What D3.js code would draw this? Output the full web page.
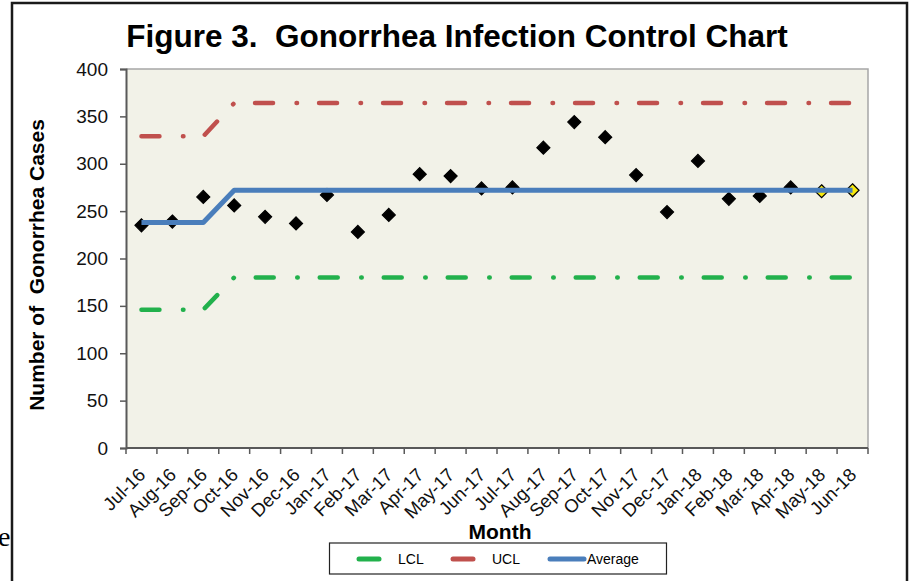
<!DOCTYPE html>
<html>
<head>
<meta charset="utf-8">
<script src="https://cdn.jsdelivr.net/npm/d3@7"></script>
<style>
  body { margin: 0; background: #fff; }
  text { font-family: Arial, "Liberation Sans", sans-serif; white-space: pre; }
</style>
</head>
<body>
<svg id="chart" width="910" height="581"></svg>
<script>
var months = ["Jul-16","Aug-16","Sep-16","Oct-16","Nov-16","Dec-16","Jan-17","Feb-17","Mar-17","Apr-17","May-17","Jun-17",
              "Jul-17","Aug-17","Sep-17","Oct-17","Nov-17","Dec-17","Jan-18","Feb-18","Mar-18","Apr-18","May-18","Jun-18"];
var cases = [235, 239, 265, 256, 244, 237, 267, 228, 246, 289, 287, 274,
             275, 317, 344, 328, 288, 249, 303, 263, 266, 275, 271, 272];
// last two months are flagged (yellow markers)
var flagged = ["May-18", "Jun-18"];
var average = [238, 238, 238, 272, 272, 272, 272, 272, 272, 272, 272, 272,
               272, 272, 272, 272, 272, 272, 272, 272, 272, 272, 272, 272];
var ucl = [329, 329, 329, 364, 364, 364, 364, 364, 364, 364, 364, 364,
           364, 364, 364, 364, 364, 364, 364, 364, 364, 364, 364, 364];
var lcl = [146, 146, 146, 180, 180, 180, 180, 180, 180, 180, 180, 180,
           180, 180, 180, 180, 180, 180, 180, 180, 180, 180, 180, 180];
var yTicks = [0, 50, 100, 150, 200, 250, 300, 350, 400];

var svg = d3.select("#chart"),
    pLeft = 126, pRight = 868, pTop = 69, pBottom = 448;

var x = d3.scaleBand().domain(months).range([pLeft, pRight]);
var y = d3.scaleLinear().domain([0, 400]).range([pBottom, pTop]);
var cx = function(m) { return x(m) + x.bandwidth() / 2; };

// outer frame and stray text from the page
svg.append("rect").attr("x", 12).attr("y", 3).attr("width", 895).attr("height", 620)
    .attr("fill", "none").attr("stroke", "#1a1a1a").attr("stroke-width", 2.5);
svg.append("text").attr("x", -2).attr("y", 546).text("e")
    .style("font-family", "'Liberation Serif', 'Times New Roman', serif").style("font-size", "28px");

// plot area
svg.append("rect").attr("x", pLeft).attr("y", pTop).attr("width", pRight - pLeft).attr("height", pBottom - pTop)
    .attr("fill", "#f2f2e8");
svg.append("path").attr("d", "M" + pLeft + "," + pTop + "H" + pRight + "V" + pBottom)
    .attr("fill", "none").attr("stroke", "#a6a6a6").attr("stroke-width", 1.5);

svg.append("text").attr("x", 457).attr("y", 47).attr("text-anchor", "middle")
    .style("font-size", "31.5px").style("font-weight", "bold").text("Figure 3.  Gonorrhea Infection Control Chart");

// y axis
var yAxis = svg.append("g").attr("transform", "translate(" + pLeft + ",0)")
    .call(d3.axisLeft(y).tickValues(yTicks).tickSize(6).tickPadding(12));
yAxis.select(".domain").attr("stroke", "#595959").attr("stroke-width", 2);
yAxis.selectAll(".tick line").attr("stroke", "#595959").attr("stroke-width", 1.5);
yAxis.selectAll(".tick text").style("font-size", "19px").attr("fill", "#111")
    .style("font-family", "Arial, 'Liberation Sans', sans-serif");

// x axis, ticks at category boundaries
var xAxis = svg.append("g").attr("transform", "translate(0," + pBottom + ")");
xAxis.append("line").attr("x1", pLeft).attr("x2", pRight).attr("stroke", "#595959").attr("stroke-width", 2);
xAxis.selectAll(".xt").data(months.concat(["end"])).enter().append("line")
    .attr("x1", function(d, i) { return pLeft + i * x.step(); })
    .attr("x2", function(d, i) { return pLeft + i * x.step(); })
    .attr("y1", 0).attr("y2", 6).attr("stroke", "#595959").attr("stroke-width", 1.5);
xAxis.selectAll(".xl").data(months).enter().append("text")
    .attr("transform", function(d) { return "translate(" + (cx(d) + 5) + ",28) rotate(-45)"; })
    .attr("text-anchor", "end").style("font-size", "18.5px").attr("fill", "#111").text(function(d) { return d; });

svg.append("text").attr("transform", "translate(44,265) rotate(-90)").attr("text-anchor", "middle")
    .style("font-size", "21px").style("font-weight", "bold").text("Number of  Gonorrhea Cases");
svg.append("text").attr("x", 500).attr("y", 539).attr("text-anchor", "middle")
    .style("font-size", "21px").style("font-weight", "bold").text("Month");

// data points
var diamond = function(d) {
  var px = cx(d.m), py = y(d.v), r = 6.5;
  return "M" + px + "," + (py - r) + "L" + (px + r) + "," + py + "L" + px + "," + (py + r) + "L" + (px - r) + "," + py + "Z";
};
var pts = months.map(function(m, i) { return {m: m, v: cases[i]}; });
svg.append("g").selectAll("path").data(pts).enter().append("path")
    .attr("d", diamond)
    .attr("fill", function(d) { return flagged.indexOf(d.m) >= 0 ? "#f7e80c" : "#000"; })
    .attr("stroke", "#000").attr("stroke-width", 1.2);

var line = d3.line().x(function(d) { return cx(d.m); }).y(function(d) { return y(d.v); });
var series = [
  {name: "LCL", values: lcl, color: "#22b14c", dash: "18,23.5,0.5,22"},
  {name: "UCL", values: ucl, color: "#c0504d", dash: "18,23.5,0.5,22"},
  {name: "Average", values: average, color: "#4a7ebb", dash: null}
];
series.forEach(function(s) {
  svg.append("path")
      .datum(months.map(function(m, i) { return {m: m, v: s.values[i]}; }))
      .attr("d", line).attr("fill", "none").attr("stroke", s.color)
      .attr("stroke-width", s.dash ? 4.5 : 5)
      .attr("stroke-linecap", s.dash ? "round" : "butt")
      .attr("stroke-linejoin", "round")
      .attr("stroke-dasharray", s.dash);
});

// legend
var legend = svg.append("g");
legend.append("rect").attr("x", 329.5).attr("y", 543).attr("width", 337).attr("height", 31)
    .attr("fill", "#fff").attr("stroke", "#222").attr("stroke-width", 1.2);
var legPos = [{x1: 359, x2: 379, tx: 398}, {x1: 453, x2: 473, tx: 492}, {x1: 550, x2: 584, tx: 587}];
series.forEach(function(s, i) {
  var p = legPos[i];
  legend.append("line").attr("x1", p.x1).attr("x2", p.x2).attr("y1", 559).attr("y2", 559)
      .attr("stroke", s.color).attr("stroke-width", 5).attr("stroke-linecap", "round");
  legend.append("text").attr("x", p.tx).attr("y", 564).style("font-size", "14px").text(s.name);
});
</script>
</body>
</html>
